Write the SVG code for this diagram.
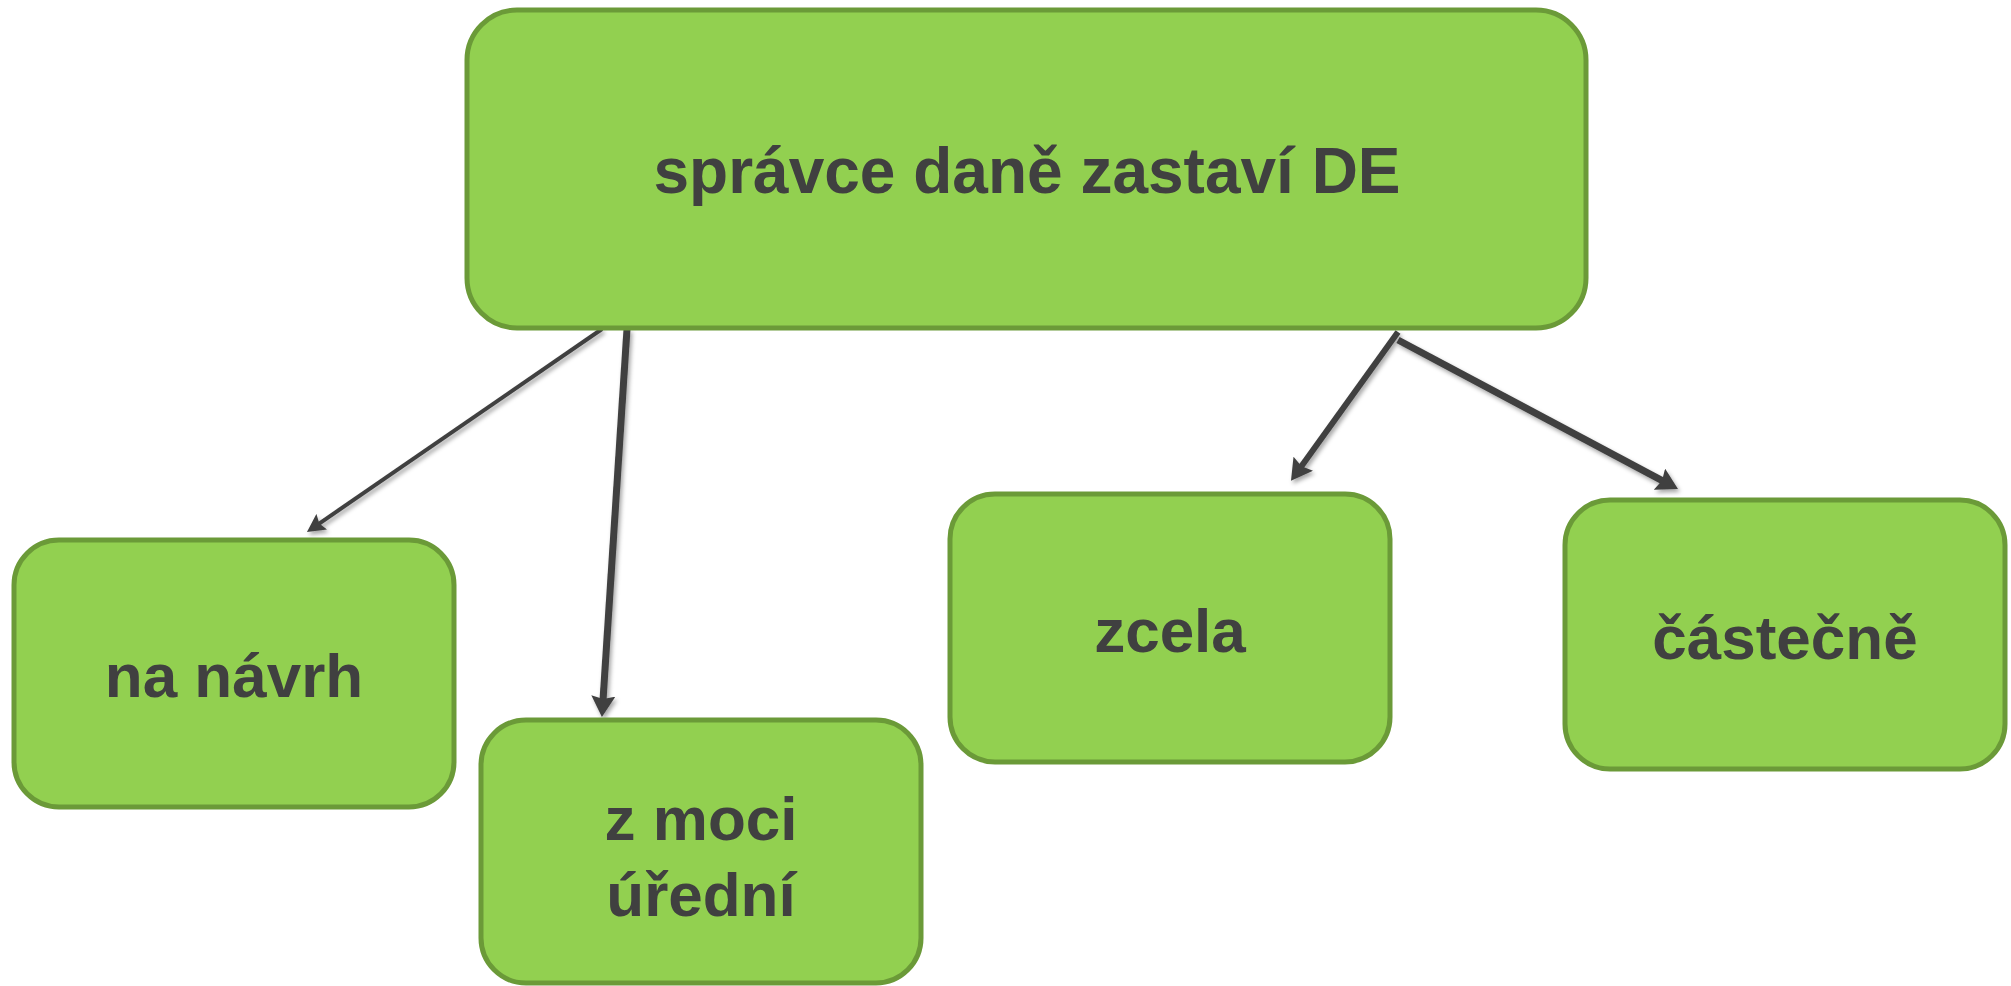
<svg xmlns="http://www.w3.org/2000/svg" width="2011" height="986" viewBox="0 0 2011 986">
<style>
.box{fill:#92d050;stroke:#6b9a38;stroke-width:5}
.lbl{font-family:"Liberation Sans",Arial,sans-serif;font-weight:bold;fill:#404040;text-anchor:middle}
.big{font-size:64px}
.sm{font-size:62px}
.con{fill:none;stroke:#404040;stroke-linecap:butt}
</style>
<defs>
<filter id="sh" x="-20%" y="-20%" width="140%" height="140%">
<feDropShadow dx="2" dy="3" stdDeviation="2" flood-color="#000" flood-opacity="0.35"/>
</filter>
<marker id="headL" markerUnits="userSpaceOnUse" viewBox="0 0 22 24" markerWidth="22" markerHeight="24" refX="9" refY="12" orient="auto">
<path d="M0,0 L21,12 L0,24 L3,12 Z" fill="#404040"/>
</marker>
<marker id="headS" markerUnits="userSpaceOnUse" viewBox="0 0 19 19" markerWidth="19" markerHeight="19" refX="8" refY="9.5" orient="auto">
<path d="M0,0 L18,9.5 L0,19 L3,9.5 Z" fill="#404040"/>
</marker>
</defs>
<rect width="2011" height="986" fill="#ffffff"/>
<g id="connectors" filter="url(#sh)">
<line class="con" x1="602" y1="329" x2="315.2" y2="526.3" stroke-width="4" marker-end="url(#headS)"/>
<line class="con" x1="627" y1="329" x2="602.7" y2="705" stroke-width="7" marker-end="url(#headL)"/>
<line class="con" x1="1398" y1="332" x2="1298" y2="471" stroke-width="6" marker-end="url(#headL)"/>
<line class="con" x1="1398" y1="340" x2="1667.4" y2="483.4" stroke-width="7" marker-end="url(#headL)"/>
</g>
<g id="node-root">
<rect class="box" x="467" y="10" width="1119" height="318" rx="50" ry="50"/>
<text class="lbl big" x="1027" y="193">správce daně zastaví DE</text>
</g>
<g id="node-na-navrh">
<rect class="box" x="14" y="540" width="440" height="267" rx="45" ry="45"/>
<text class="lbl sm" x="234" y="697">na návrh</text>
</g>
<g id="node-z-moci-uredni">
<rect class="box" x="481" y="720" width="440" height="263" rx="45" ry="45"/>
<text class="lbl sm" x="701" y="840">z moci</text>
<text class="lbl sm" x="701" y="916">úřední</text>
</g>
<g id="node-zcela">
<rect class="box" x="950" y="494" width="440" height="268" rx="45" ry="45"/>
<text class="lbl sm" x="1170" y="652">zcela</text>
</g>
<g id="node-castecne">
<rect class="box" x="1565" y="500" width="440" height="269" rx="45" ry="45"/>
<text class="lbl sm" x="1785" y="659">částečně</text>
</g>
</svg>
